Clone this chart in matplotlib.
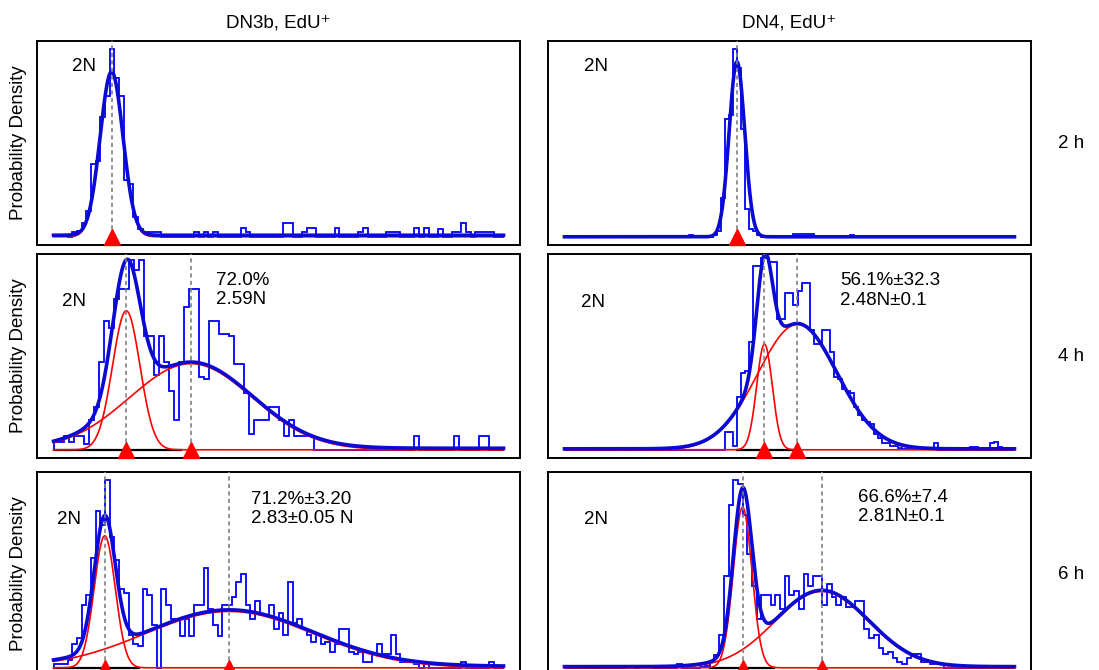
import numpy as np
import matplotlib
matplotlib.use("Agg")
import matplotlib.pyplot as plt

plt.rcParams["font.family"] = ["Liberation Sans", "DejaVu Sans"]
plt.rcParams["font.size"] = 13.5

# =========================
# DATA
# =========================

col_titles = ["DN3b, EdU⁺", "DN4, EdU⁺"]
row_labels = ["2 h", "4 h", "6 h"]

# histograms: first bin edge (N), bin width (N), bin heights (relative density)
# fits: one (peak height, mean N, sd N) per gaussian component

# DN3b, 2 h
dn3b_2h_start, dn3b_2h_width = 1.475, 0.0424
dn3b_2h_hist = [
    0.01, 0.01, 0.01, 0.0, 0.025, 0.03, 0.07, 0.13, 0.37, 0.385, 0.61, 0.72,
    0.96, 0.81, 0.72, 0.29, 0.27, 0.10, 0.04, 0.025, 0.025, 0.025, 0.025, 0.0,
    0.0, 0.0, 0.0, 0.0, 0.0, 0.0, 0.025, 0.0, 0.025, 0.0, 0.025, 0.0,
    0.0, 0.0, 0.0, 0.0, 0.046, 0.025, 0.0, 0.0, 0.0, 0.0, 0.0, 0.0,
    0.0, 0.071, 0.071, 0.0, 0.0, 0.025, 0.046, 0.046, 0.0, 0.0, 0.0, 0.0,
    0.046, 0.0, 0.0, 0.0, 0.0, 0.025, 0.046, 0.0, 0.0, 0.0, 0.0, 0.025,
    0.025, 0.025, 0.0, 0.0, 0.0, 0.046, 0.0, 0.046, 0.0, 0.0, 0.04, 0.0,
    0.0, 0.025, 0.025, 0.071, 0.025, 0.0, 0.025, 0.025, 0.025, 0.025, 0.0, 0.0,
]
dn3b_2h_fit = [(0.835, 2.00, 0.103)]

# DN4, 2 h
dn4_2h_start, dn4_2h_width = 0.283, 0.040
dn4_2h_hist = (
    [0.0] * 31 + [0.01] + [0.0] * 5
    + [0.01, 0.03, 0.20, 0.60, 0.62, 0.96, 0.86, 0.55, 0.14, 0.04, 0.03, 0.01]
    + [0.0] * 8 + [0.015] * 5 + [0.0] * 9 + [0.01]
    + [0.0] * 11 + [0.005] + [0.0] * 28
)
dn4_2h_fit = [(0.894, 2.00, 0.077)]

# DN3b, 4 h
dn3b_4h_start, dn3b_4h_width = 1.337, 0.0456
dn3b_4h_hist = [
    0.04, 0.04, 0.07, 0.04, 0.07, 0.07, 0.03, 0.15, 0.22, 0.45, 0.66, 0.62,
    0.77, 0.82, 0.82, 0.97, 0.92, 0.97, 0.58, 0.58, 0.38, 0.58, 0.45, 0.30,
    0.15, 0.45, 0.73, 0.82, 0.82, 0.37, 0.36, 0.66, 0.66, 0.59, 0.59, 0.58,
    0.44, 0.44, 0.29, 0.08, 0.15, 0.15, 0.15, 0.22, 0.22, 0.15, 0.07, 0.15,
    0.07, 0.07, 0.07, 0.07, 0.0, 0.0, 0.0, 0.0, 0.0, 0.0, 0.0, 0.0,
    0.0, 0.0, 0.0, 0.0, 0.0, 0.0, 0.0, 0.0, 0.0, 0.0, 0.0, 0.0,
    0.07, 0.0, 0.0, 0.0, 0.0, 0.0, 0.0, 0.0, 0.07, 0.0, 0.0, 0.0,
    0.0, 0.07, 0.07, 0.0, 0.0, 0.0,
]
dn3b_4h_fit = [(0.71, 2.00, 0.125), (0.44, 2.59, 0.56)]

# DN4, 4 h
dn4_4h_start, dn4_4h_width = -0.922, 0.0587
dn4_4h_hist = (
    [0.0] * 13 + [0.01] + [0.0] * 26
    + [0.09, 0.09, 0.02, 0.27, 0.39, 0.40, 0.55, 0.94, 0.94, 0.98, 0.98, 0.96,
       0.96, 0.67, 0.67, 0.80, 0.80, 0.74, 0.81, 0.85, 0.85, 0.61, 0.54, 0.54,
       0.61, 0.61, 0.50, 0.37, 0.36, 0.31, 0.30, 0.29, 0.22, 0.18, 0.15, 0.14,
       0.13, 0.08, 0.06, 0.035, 0.035, 0.02, 0.02, 0.01, 0.005, 0.005, 0.005, 0.005,
       0.005, 0.005, 0.005, 0.005, 0.035, 0.0, 0.0, 0.0, 0.0, 0.0, 0.0, 0.0,
       0.0, 0.015, 0.015, 0.0, 0.0, 0.0, 0.035, 0.04, 0.015, 0.0, 0.0, 0.0]
)
dn4_4h_fit = [(0.54, 2.00, 0.114), (0.64, 2.48, 0.58)]

# DN3b, 6 h
dn3b_6h_start, dn3b_6h_width = 1.659, 0.03124
dn3b_6h_hist = [
    0.02, 0.02, 0.02, 0.04, 0.12, 0.15, 0.32, 0.37, 0.56, 0.80, 0.73, 0.96,
    0.67, 0.55, 0.40, 0.38, 0.17, 0.12, 0.11, 0.40, 0.37, 0.22, 0.0, 0.40,
    0.32, 0.25, 0.25, 0.16, 0.25, 0.16, 0.32, 0.32, 0.51, 0.30, 0.22, 0.16,
    0.32, 0.32, 0.36, 0.44, 0.48, 0.32, 0.25, 0.34, 0.27, 0.27, 0.32, 0.20,
    0.28, 0.17, 0.44, 0.23, 0.25, 0.20, 0.17, 0.13, 0.17, 0.12, 0.13, 0.08,
    0.12, 0.20, 0.20, 0.08, 0.07, 0.08, 0.03, 0.03, 0.07, 0.12, 0.07, 0.07,
    0.17, 0.07, 0.03, 0.03, 0.03, 0.02, 0.0, 0.02, 0.0, 0.0, 0.0, 0.0,
    0.0, 0.0, 0.0, 0.03, 0.0, 0.0, 0.0, 0.0, 0.0, 0.03, 0.0, 0.0,
]
dn3b_6h_fit = [(0.674, 2.00, 0.070), (0.288, 2.83, 0.56)]

# DN4, 6 h
dn4_6h_start, dn4_6h_width = 0.176, 0.048
dn4_6h_hist = [
    0.0, 0.0, 0.0, 0.0, 0.0, 0.0, 0.0, 0.0, 0.0, 0.0, 0.0, 0.0,
    0.0, 0.007, 0.007, 0.0, 0.007, 0.007, 0.007, 0.0, 0.0, 0.0, 0.0, 0.0,
    0.017, 0.0, 0.0, 0.0, 0.0, 0.005, 0.01, 0.03, 0.065, 0.17, 0.47, 0.83,
    0.96, 0.94, 0.78, 0.58, 0.42, 0.25, 0.37, 0.37, 0.32, 0.37, 0.30, 0.47,
    0.37, 0.39, 0.30, 0.48, 0.42, 0.47, 0.47, 0.32, 0.43, 0.36, 0.32, 0.36,
    0.31, 0.31, 0.34, 0.34, 0.20, 0.15, 0.17, 0.10, 0.07, 0.08, 0.05, 0.03,
    0.02, 0.05, 0.07, 0.07, 0.03, 0.03, 0.02, 0.02, 0.02, 0.0, 0.0, 0.0,
    0.0, 0.0, 0.0, 0.0, 0.0, 0.0, 0.0, 0.0, 0.0, 0.0, 0.0, 0.0,
]
dn4_6h_fit = [(0.82, 2.00, 0.095), (0.39, 2.81, 0.48)]

# fit background level and the 2N gate drawn in black on the baseline
fit_background = [0.008, 0.0, 0.008, 0.005, 0.008, 0.006]
gates = [None, None, (1.34, 2.50), (1.60, 2.43), (1.66, 2.23), (1.67, 2.32)]

notes = [
    None, None,
    "72.0%\n2.59N", "56.1%±32.3\n2.48N±0.1",
    "71.2%±3.20\n2.83±0.05 N", "66.6%±7.4\n2.81N±0.1",
]

panels = [
    (dn3b_2h_start, dn3b_2h_width, dn3b_2h_hist, dn3b_2h_fit),
    (dn4_2h_start, dn4_2h_width, dn4_2h_hist, dn4_2h_fit),
    (dn3b_4h_start, dn3b_4h_width, dn3b_4h_hist, dn3b_4h_fit),
    (dn4_4h_start, dn4_4h_width, dn4_4h_hist, dn4_4h_fit),
    (dn3b_6h_start, dn3b_6h_width, dn3b_6h_hist, dn3b_6h_fit),
    (dn4_6h_start, dn4_6h_width, dn4_6h_hist, dn4_6h_fit),
]

# =========================
# LAYOUT
# =========================

col_x = [0.0337, 0.4986]
row_y = [0.6343, 0.3164, -0.0090]
ax_w, ax_h = 0.4395, 0.3045

twoN_pos = [(0.072, 0.877), (0.075, 0.877), (0.052, 0.768),
            (0.068, 0.764), (0.041, 0.765), (0.075, 0.765)]
note_pos = [None, None, (0.370, 0.823), (0.605, 0.820),
            (0.443, 0.819), (0.641, 0.828)]

HIST_BLUE = "#0000ff"
FIT_BLUE = "#0a0ad2"

fig = plt.figure(figsize=(10.99, 6.70), dpi=100)

for i, (start, width, hist, fit) in enumerate(panels):
    r, c = divmod(i, 2)
    ax = fig.add_axes([col_x[c], row_y[r], ax_w, ax_h])

    h = np.array(hist)
    edges = start + width * np.arange(len(h) + 1)
    x = np.linspace(edges[0], edges[-1], 1200)
    comps = [a * np.exp(-0.5 * ((x - m) / s) ** 2) for a, m, s in fit]
    total = np.sum(comps, axis=0) + fit_background[i]

    ax.stairs(h, edges, color=HIST_BLUE, lw=1.3, zorder=2)
    if gates[i] is not None:
        ax.plot(gates[i], [0, 0], color="black", lw=1.6, zorder=2.5)
    for cv in comps:
        ax.plot(x, cv, color="red", lw=1.2, zorder=3)
    ax.plot(x, total, color=FIT_BLUE, lw=2.6, zorder=4)

    means = [m for _, m, _ in fit]
    for m in means:
        ax.plot([m, m], [0, 1], color="#808080", lw=1.2,
                ls=(0, (2.5, 2.0)), zorder=5)
    ax.plot(means, [0] * len(means), "^", color="red", ms=11,
            zorder=6, clip_on=False)

    span = edges[-1] - edges[0]
    ax.set_xlim(edges[0] - 0.0367 * span, edges[-1] + 0.0367 * span)
    ax.set_ylim(-0.042, 1.0)
    ax.set_xticks([])
    ax.set_yticks([])
    for sp in ax.spines.values():
        sp.set_linewidth(1.4)

    ax.text(*twoN_pos[i], "2N", transform=ax.transAxes, ha="left", va="center")
    if notes[i] is not None:
        ax.text(*note_pos[i], notes[i], transform=ax.transAxes,
                ha="left", va="center", linespacing=1.2)

    if c == 0:
        ax.set_ylabel("Probability Density", labelpad=7)
    if r == 0:
        ax.set_title(col_titles[c], pad=10, fontsize=13.5)

for r, lab in enumerate(row_labels):
    fig.text(0.9627, row_y[r] + ax_h / 2, lab, ha="left", va="center")

fig.savefig("out.png", dpi=100)
